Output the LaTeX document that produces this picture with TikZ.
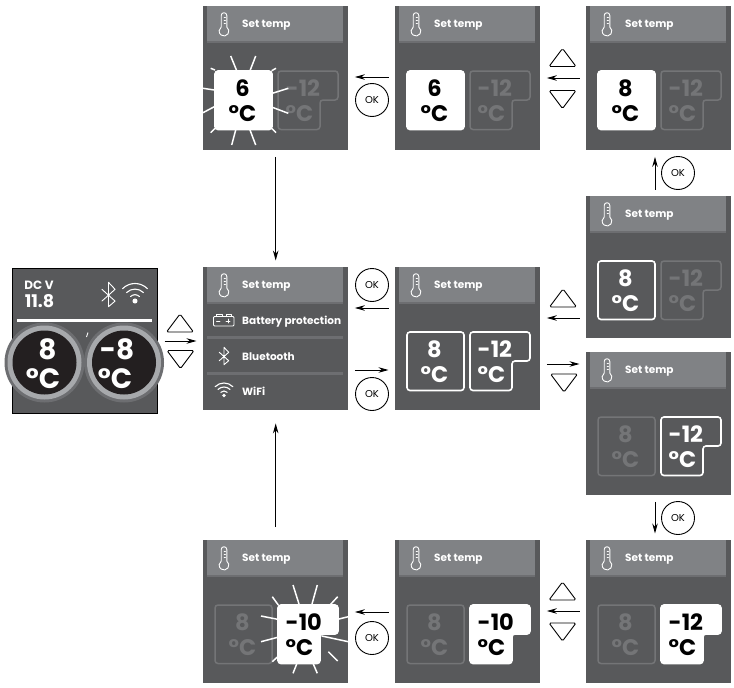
\documentclass[tikz,border=0pt]{standalone}
\usepackage{fontspec}
\setmainfont{Poppins}
\usetikzlibrary{arrows.meta}
\definecolor{scrgray}{HTML}{58595B}
\definecolor{headgray}{HTML}{808285}
\definecolor{bandgray}{HTML}{6D6E71}
\definecolor{dimgray}{HTML}{747577}
\definecolor{ringgray}{HTML}{A7A9AC}
\definecolor{dialblack}{HTML}{231F20}
\tikzset{
  screen/.style={fill=scrgray,minimum width=145pt,inner sep=0pt,anchor=north west},
  headbar/.style={fill=headgray,minimum width=136pt,minimum height=37pt,inner sep=0pt,anchor=north west},
  menutxt/.style={text=white,font=\fontsize{10.5}{12}\selectfont\bfseries,anchor=base west,inner sep=0pt},
  icon/.style={draw=white,line width=0.9pt,line join=round,line cap=round},
  dimbox/.style={draw=dimgray,line width=1.5pt,rounded corners=3pt},
  livebox/.style={draw=white,line width=1.6pt,rounded corners=3pt},
  solidbox/.style={draw=white,fill=white,line width=1.6pt,rounded corners=3pt},
  dimnum/.style={text=dimgray},
  livenum/.style={text=white},
  solidnum/.style={text=black},
  numtxt/.style={font=\fontsize{22.5}{25}\selectfont\bfseries,inner sep=0pt},
  ray/.style={draw=white,line width=1.5pt},
  link/.style={-{Stealth[length=10pt,width=5.5pt]},line width=0.9pt,shorten >=6.5pt,shorten <=6.5pt},
  okkey/.style={circle,draw,line width=0.9pt,minimum size=33pt,inner sep=0pt,font=\fontsize{10}{12}\selectfont},
  upkey/.pic={\draw[line width=0.9pt,rounded corners=1.5pt] (-13.5,9) -- (0,-9) -- (13.5,9) -- cycle;},
  downkey/.pic={\draw[line width=0.9pt,rounded corners=1.5pt] (-13.5,-9) -- (0,9) -- (13.5,-9) -- cycle;}
}
\newcommand{\thermo}{%
  \draw[icon] (-2.8,2.6) -- (-2.8,-9) arc (180:360:2.8) -- (2.8,2.6) arc (-55:235:4.88);
  \foreach \tick in {-7,-4,-1}{\draw[icon,line width=0.5pt] (0,\tick) -- (1.6,\tick);}
}
\newcommand{\btooth}{%
  \draw[icon] (-4.7,-3.7) -- (4.7,4.7) -- (0,8.7) -- (0,-8.7) -- (4.7,-3.7) -- (-4.7,4.7);
}
\newcommand{\wifi}{%
  \fill[white] (0,0) circle (1.8);
  \foreach \rad in {4.5,8.5,12.5}{\draw[icon,line width=1.1pt] (0,0) ++(-135:\rad) arc (-135:-45:\rad);}
}
\begin{document}
\begin{tikzpicture}[x=1pt,y=-1pt]
  \useasboundingbox (0,0) rectangle (734,688);
  \fill[white] (0,0) rectangle (734,688);
  % temperature screens
  \foreach \name/\xx/\yy/\high/\lstate/\ltxt/\rstate/\rtxt in {
    flashsix/203/6/144/solid/6/dim/-12,
    setsix/395/6/144/solid/6/dim/-12,
    seteight/586/6/144/solid/8/dim/-12,
    pickeight/586/196/142/live/8/dim/-12,
    choose/395/267/143/live/8/live/-12,
    pickminus/586/352/143/dim/8/live/-12,
    setminus/586/540/143/dim/8/solid/-12,
    setten/395/540/143/dim/8/solid/-10,
    flashten/203/540/143/dim/8/solid/-10}{
    \node[screen,minimum height=\high pt] (\name) at (\xx,\yy) {};
    \begin{scope}[shift={(\xx,\yy)}]
      \node[headbar] (\name-head) at (4,0) {};
      \fill[bandgray] (4,34.5) rectangle (140,37);
      \node[menutxt] (\name-title) at (39,21.5) {Set temp};
      \begin{scope}[shift={(21,18.5)}]\thermo\end{scope}
      \draw[\lstate box] (12,65) rectangle (69,123.5);
      \draw[\rstate box] (75,65) -- (135,65) -- (135,94) -- (117,94) -- (117,123.5) -- (75,123.5) -- cycle;
      \node[numtxt,align=center,\lstate num] (\name-left) at (39.5,95) {\ltxt\\°C};
      \node[numtxt,align=left,anchor=west,\rstate num] (\name-right) at (82.5,95) {\rtxt\\°C};
    \end{scope}
  }
  % flashing
  \foreach \xa/\ya/\xb/\yb in {236.7/70.7/230.7/56,250/70.7/255.7/56,271.7/70.7/276/68.3,
    214.3/90/203/88.3,214.3/106.7/203/112.7,215/70/210.7/68.3,215/128.3/210.7/132.7,
    235.7/130/231.7/145,250/130/255.7/145,271.7/128.3/276/132.7,
    272.3/93.3/288.3/88.3,272.3/107.3/288.3/113.3,
    299/604/293/585,312/604/317.3/585,278.3/605/272.3/596.7,330/605/337.7/596.7,
    277.7/619.3/261/616,277.7/637.3/261/641.7,277.7/656.7/272.3/661.7,
    296.7/664/293/673.3,313.3/664/317.3/673.3,
    337.7/619.3/348.3/616.7,321.7/636/348.3/641.7,328.3/651.7/337.7/661}{
    \draw[ray] (\xa,\ya) -- (\xb,\yb);
  }
  % menu
  \node[screen,minimum height=143pt] (menu) at (203,267) {};
  \begin{scope}[shift={(203,267)}]
    \node[headbar] (menu-head) at (4,0) {};
    \fill[bandgray] (4,34.5) rectangle (140,37);
    \fill[bandgray] (4,69) rectangle (140,71.5);
    \fill[bandgray] (4,105) rectangle (140,107.5);
    \node[menutxt] (menu-set) at (39,21.5) {Set temp};
    \node[menutxt] (menu-batt) at (39,57) {Battery protection};
    \node[menutxt] (menu-blue) at (39,93) {Bluetooth};
    \node[menutxt] (menu-wifi) at (39,128) {WiFi};
    \begin{scope}[shift={(21,18.5)}]\thermo\end{scope}
    \draw[icon,rounded corners=1pt] (10.5,49.5) rectangle (31,59);
    \draw[icon] (13,49) -- (13,47.5) -- (19,47.5) -- (19,49) (23,49) -- (23,47.5) -- (28,47.5) -- (28,49);
    \draw[icon,line width=0.6pt] (13.5,54) -- (17,54) (23,54) -- (27,54) (25,52) -- (25,56);
    \begin{scope}[shift={(21,89)}]\btooth\end{scope}
    \begin{scope}[shift={(21,128.5)}]\wifi\end{scope}
  \end{scope}
  % running display
  \node[screen,draw=black,line width=1.2pt,minimum height=145pt] (display) at (12,267.5) {};
  \draw[white,line width=2.4pt] (17,320.5) -- (152,320.5);
  \node[text=white,font=\fontsize{12}{14}\selectfont\bfseries,inner sep=0pt] (dc-label) at (39,285.5) {DC V};
  \node[text=white,font=\fontsize{17.5}{20}\selectfont\bfseries,inner sep=0pt] (dc-value) at (39.5,301.5) {11.8};
  \begin{scope}[shift={(108.5,294.5)},scale=1.4]\btooth\end{scope}
  \begin{scope}[shift={(135,301)},scale=1.4]\wifi\end{scope}
  \foreach \name/\xx/\txt/\xtxt/\xdeg in {dialleft/44.5/8/47.5/43,dialright/124/-8/117/115}{
    \fill[bandgray] (\xx,362.5) circle (40);
    \fill[ringgray] (\xx,362.5) circle (37);
    \node[circle,fill=dialblack,minimum size=64pt,inner sep=0pt] (\name) at (\xx,362.5) {};
    \node[text=white,font=\fontsize{28}{30}\selectfont\bfseries,inner sep=0pt] (\name-num) at (\xtxt,349) {\txt};
    \node[text=white,font=\fontsize{28}{30}\selectfont\bfseries,inner sep=0pt] (\name-deg) at (\xdeg,379) {°C};
  }
  \draw[white,line width=0.8pt] (86.5,337) -- (88,332.5);
  % keys
  \foreach \name/\xx/\yy in {okone/372/100,oktwo/372/285,okthree/372/394,okfour/678/173,okfive/678/518,oksix/372/638}{
    \node[okkey] (\name) at (\xx,\yy) {OK};
  }
  \foreach \xx/\yy in {180/323,562.5/57.5,563/298,562.5/591}{
    \pic at (\xx,\yy) {upkey};
  }
  \foreach \xx/\yy in {180.5/359.5,562.5/99.5,564/383,562.5/632}{
    \pic at (\xx,\yy) {downkey};
  }
  % links
  \foreach \from/\to/\yy in {setsix/flashsix/77,seteight/setsix/78,choose/menu/308,pickeight/choose/318,setminus/setten/611,setten/flashten/612}{
    \draw[link] (\from.west |- 0,\yy) -- (\to.east |- 0,\yy);
  }
  \foreach \from/\to/\yy in {display/menu/341,menu/choose/370,choose/pickminus/364}{
    \draw[link] (\from.east |- 0,\yy) -- (\to.west |- 0,\yy);
  }
  \draw[link] (pickeight.north -| 655,0) -- (seteight.south -| 655,0);
  \draw[link] (pickminus.south -| 655,0) -- (setminus.north -| 655,0);
  \draw[link] (flashsix) -- (menu);
  \draw[link,shorten >=13pt,shorten <=13pt] (flashten) -- (menu);
\end{tikzpicture}
\end{document}
